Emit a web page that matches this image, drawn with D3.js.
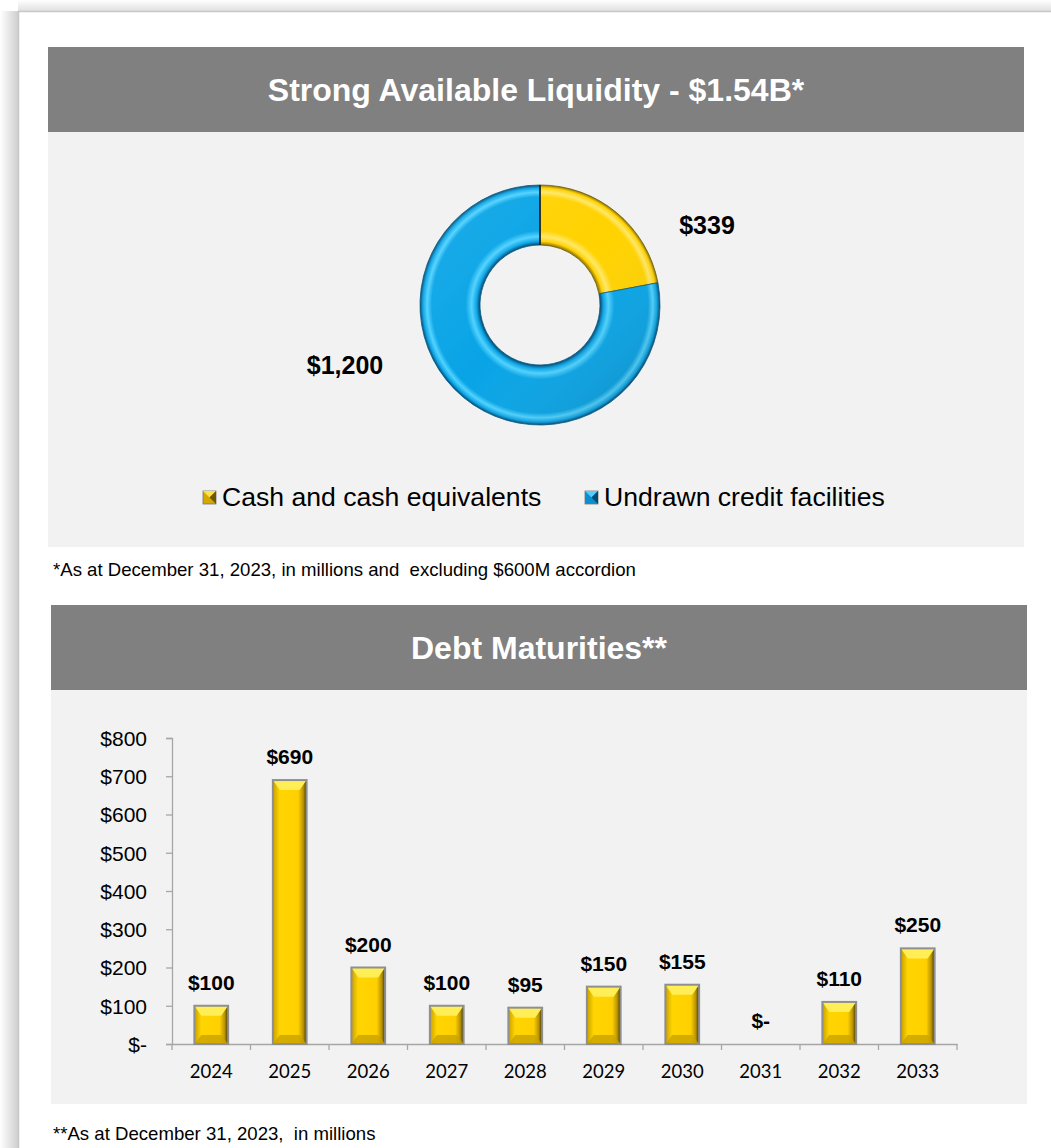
<!DOCTYPE html>
<html><head><meta charset="utf-8">
<script src="https://cdn.jsdelivr.net/npm/d3@7"></script>
<style>
html,body{margin:0;padding:0;background:#fff;width:1051px;height:1148px;overflow:hidden;}
</style></head>
<body><svg id="c" width="1051" height="1148"></svg>
<script>
const liquidityLabels = ["Cash and cash equivalents", "Undrawn credit facilities"];
const liquidityValues = [339, 1200];
const liquidityText = ["$339", "$1,200"];
const years = ["2024","2025","2026","2027","2028","2029","2030","2031","2032","2033"];
const maturities = [100, 690, 200, 100, 95, 150, 155, 0, 110, 250];
const yTicks = [0,100,200,300,400,500,600,700,800];

const svg = d3.select("#c");
const defs = svg.append("defs");
const F = "'Liberation Sans', Arial, sans-serif";

// card shadow
const sh = defs.append("linearGradient").attr("id","shL").attr("x1",0).attr("x2",1).attr("y1",0).attr("y2",0);
sh.append("stop").attr("offset",0).attr("stop-color","#fff");
sh.append("stop").attr("offset",1).attr("stop-color","#cfcfcf");
const shT = defs.append("linearGradient").attr("id","shT").attr("x1",0).attr("x2",0).attr("y1",0).attr("y2",1);
shT.append("stop").attr("offset",0).attr("stop-color","#fff");
shT.append("stop").attr("offset",1).attr("stop-color","#e0e0e0");
svg.append("rect").attr("x",0).attr("y",11).attr("width",18).attr("height",1148).attr("fill","url(#shL)");
svg.append("rect").attr("x",18).attr("y",0).attr("width",1040).attr("height",11).attr("fill","url(#shT)");
svg.append("rect").attr("x",18.5).attr("y",11.5).attr("width",1040).attr("height",1150)
  .attr("fill","#fff").attr("stroke","#c8c8c8").attr("stroke-width",1.5);

// panels
function panel(x, y, w, hh, hb, title){
  svg.append("rect").attr("x",x).attr("y",y).attr("width",w).attr("height",hh).attr("fill","#808080");
  svg.append("rect").attr("x",x).attr("y",y+hh).attr("width",w).attr("height",hb).attr("fill","#f2f2f2");
  svg.append("text").attr("x",x+w/2).attr("y",y+hh/2+11).attr("text-anchor","middle")
    .attr("font-family",F).attr("font-weight","bold").attr("font-size",32).attr("fill","#fff").text(title);
}
panel(48,47,976,85,415,"Strong Available Liquidity - $1.54B*");
panel(51,605,976,85,414,"Debt Maturities**");

svg.append("text").attr("x",53).attr("y",576).attr("font-family",F).attr("font-size",18.6).attr("fill","#000")
  .text("*As at December 31, 2023, in millions and\u00a0 excluding $600M accordion");
svg.append("text").attr("x",53).attr("y",1140).attr("font-family",F).attr("font-size",18.6).attr("fill","#000")
  .text("**As at December 31, 2023,\u00a0 in millions");

// donut
const cx = 540, cy = 305, R = 120, r0 = 60;
function radGrad(id, base, light, dark){
  const g = defs.append("radialGradient").attr("id",id).attr("gradientUnits","userSpaceOnUse")
    .attr("cx",0).attr("cy",0).attr("r",R);
  [[0.5,dark],[0.53,base],[0.57,light],[0.62,base],[0.9,base],[0.94,light],[0.975,base],[1,dark]]
    .forEach(s=>g.append("stop").attr("offset",s[0]).attr("stop-color",s[1]));
}
radGrad("gY","#ffd200","#ffe866","#8a6e00");
radGrad("gB","#08a4e6","#4fd2ff","#03446a");
const pie = d3.pie().sort(null).value(d=>d)(liquidityValues);
const arc = d3.arc().innerRadius(r0).outerRadius(R);
const dg = svg.append("g").attr("transform",`translate(${cx},${cy})`);
dg.selectAll("path").data(pie).join("path").attr("d",arc)
  .attr("fill",(d,i)=>i===0?"url(#gY)":"url(#gB)")
  .attr("stroke",(d,i)=>i===0?"#6b5a00":"#035a86").attr("stroke-width",0.8);
const shade = defs.append("linearGradient").attr("id","shade").attr("x1",0).attr("y1",0).attr("x2",1).attr("y2",1);
shade.append("stop").attr("offset",0).attr("stop-color","#fff").attr("stop-opacity",0.1);
shade.append("stop").attr("offset",0.5).attr("stop-color","#fff").attr("stop-opacity",0);
shade.append("stop").attr("offset",1).attr("stop-color","#000").attr("stop-opacity",0.18);
dg.append("path").attr("d",d3.arc().innerRadius(r0).outerRadius(R)({startAngle:0,endAngle:2*Math.PI}))
  .attr("fill","url(#shade)").attr("pointer-events","none");
// dark separator at slice start
dg.append("line").attr("x1",0).attr("y1",-r0).attr("x2",0).attr("y2",-R).attr("stroke","#1a1a1a").attr("stroke-width",1.5);

svg.append("text").attr("x",707).attr("y",234).attr("text-anchor","middle").attr("font-family",F)
  .attr("font-weight","bold").attr("font-size",25).text(liquidityText[0]);
svg.append("text").attr("x",345).attr("y",374).attr("text-anchor","middle").attr("font-family",F)
  .attr("font-weight","bold").attr("font-size",25).text(liquidityText[1]);

// legend
const legX = [203, 585];
const legC = [["#d4a800","#ffe14d","#6e5800"],["#0a8fd0","#55ccff","#034a70"]];
liquidityLabels.forEach((lab,i)=>{
  const x = legX[i], y = 491, s = 13;
  svg.append("rect").attr("x",x).attr("y",y).attr("width",s).attr("height",s).attr("fill",legC[i][0]).attr("stroke","#777").attr("stroke-width",0.8);
  svg.append("path").attr("d",`M${x},${y}L${x+s},${y}L${x+s/2},${y+s/2}Z`).attr("fill",legC[i][1]);
  svg.append("path").attr("d",`M${x+s},${y}L${x+s},${y+s}L${x+s/2},${y+s/2}Z`).attr("fill",legC[i][2]);
  svg.append("text").attr("x",x+s+6).attr("y",506).attr("font-family",F).attr("font-size",26.6).attr("fill","#000").text(lab);
});

// bar chart
const x = d3.scaleBand().domain(years).range([172, 957]).paddingInner(0.57).paddingOuter(0.285);
const y = d3.scaleLinear().domain([0,800]).range([1044, 738]);
const axisColor = "#a6a6a6";
const gy = svg.append("g").attr("transform","translate(172,0)")
  .call(d3.axisLeft(y).tickValues(yTicks).tickSize(6).tickPadding(19).tickFormat(d=>d===0?"$-":"$"+d));
gy.select(".domain").attr("stroke",axisColor).attr("stroke-width",1.3);
gy.selectAll(".tick line").attr("stroke",axisColor).attr("stroke-width",1.3);
gy.selectAll("text").attr("font-family",F).attr("font-size",21).attr("fill","#000").attr("dy","0.35em");

const gx = svg.append("g").attr("transform","translate(0,1044)")
  .call(d3.axisBottom(x).tickSize(0).tickPadding(21));
gx.select(".domain").attr("stroke",axisColor).attr("stroke-width",1.3);
gx.selectAll("text").attr("font-family","Lato, 'Open Sans', sans-serif").attr("font-size",18.5).attr("fill","#000");
const bounds = years.map(d=>x(d)-x.step()*x.paddingInner()/2).concat([957]);
svg.append("g").selectAll("line").data(bounds).join("line")
  .attr("x1",d=>d).attr("x2",d=>d).attr("y1",1044).attr("y2",1050)
  .attr("stroke",axisColor).attr("stroke-width",1.3);

const bg = defs.append("linearGradient").attr("id","barG").attr("x1",0).attr("x2",1).attr("y1",0).attr("y2",0);
[[0,"#c99f00"],[0.2,"#ffd500"],[0.75,"#ffd000"],[0.9,"#b89300"],[1,"#3a3000"]]
  .forEach(s=>bg.append("stop").attr("offset",s[0]).attr("stop-color",s[1]));

const bars = svg.append("g").selectAll("g").data(maturities.map((v,i)=>({v, yr:years[i]})).filter(d=>d.v>0)).join("g");
const bv = 7;
bars.each(function(d){
  const g = d3.select(this);
  const x0 = x(d.yr), w = x.bandwidth(), y0 = y(d.v), y1 = y(0);
  g.append("rect").attr("x",x0).attr("y",y0).attr("width",w).attr("height",y1-y0).attr("fill","url(#barG)");
  g.append("path").attr("d",`M${x0},${y0}L${x0+w},${y0}L${x0+w-bv},${y0+bv+3}L${x0+bv},${y0+bv+3}Z`).attr("fill","#ffee55");
  g.append("path").attr("d",`M${x0},${y1}L${x0+w},${y1}L${x0+w-bv},${y1-bv-2}L${x0+bv},${y1-bv-2}Z`).attr("fill","#c9a200").attr("opacity",0.8);
  g.append("rect").attr("x",x0).attr("y",y0).attr("width",w).attr("height",y1-y0)
    .attr("fill","none").attr("stroke","#8f8f8f").attr("stroke-width",2);
});

svg.append("g").selectAll("text").data(maturities.map((v,i)=>({v, yr:years[i]}))).join("text")
  .attr("x",d=>x(d.yr)+x.bandwidth()/2).attr("y",d=>d.v>0? y(d.v)-16 : y(0)-16)
  .attr("text-anchor","middle").attr("font-family",F).attr("font-weight","bold").attr("font-size",21).attr("fill","#000")
  .text(d=>d.v>0?"$"+d.v:"$-");
</script></body></html>
